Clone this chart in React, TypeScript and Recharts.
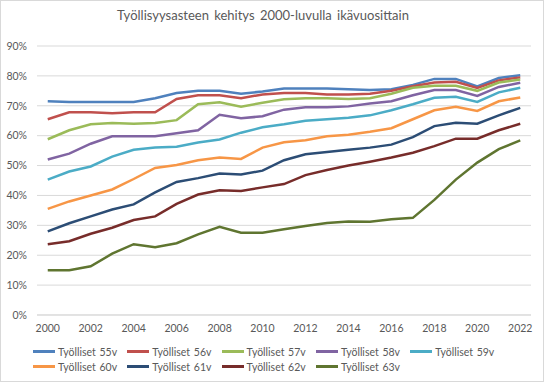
import { LineChart, Line, XAxis, YAxis, CartesianGrid, Legend } from "recharts"

const years = [
  "2000", "2001", "2002", "2003", "2004", "2005", "2006", "2007", "2008", "2009", "2010", "2011",
  "2012", "2013", "2014", "2015", "2016", "2017", "2018", "2019", "2020", "2021", "2022",
]

// työllisyysaste, %
const age55 = [71.5, 71.3, 71.3, 71.3, 71.3, 72.5, 74.3, 75, 75, 74, 74.8, 75.8, 75.8, 75.8, 75.5, 75.3, 75.5, 77, 79, 79, 76.5, 79.3, 80.2]
const age56 = [65.5, 67.8, 67.8, 67.5, 67.8, 67.8, 72.3, 73.5, 73.5, 72.5, 73.8, 74.3, 74.3, 73.8, 73.8, 74, 75, 76.5, 77.8, 78, 76, 78.5, 79.5]
const age57 = [58.8, 61.8, 63.8, 64.2, 64, 64.2, 65.2, 70.5, 71.2, 69.7, 71, 72.2, 72.5, 72.5, 72.3, 72.5, 74, 76, 76.7, 76.7, 75, 77.8, 78.8]
const age58 = [52, 54, 57.3, 59.8, 59.8, 59.8, 60.8, 61.8, 67, 65.8, 66.5, 68.7, 69.5, 69.5, 69.8, 70.8, 71.5, 73.5, 75.3, 75.3, 73.3, 76.3, 77.7]
const age59 = [45.3, 48, 49.7, 53, 55.3, 56, 56.3, 57.7, 58.7, 61, 62.8, 63.8, 65, 65.5, 66, 66.8, 68.5, 70.5, 72.7, 73, 71.3, 74.5, 76]
const age60 = [35.5, 38, 40, 42, 45.5, 49.2, 50.2, 51.8, 52.7, 52.2, 56, 57.8, 58.5, 59.8, 60.3, 61.3, 62.5, 65.5, 68.5, 69.7, 68.3, 71.5, 72.8]
const age61 = [28, 30.7, 33, 35.3, 37, 41, 44.5, 45.8, 47.3, 47, 48.3, 51.8, 53.8, 54.5, 55.3, 56, 57, 59.5, 63.2, 64.3, 64, 66.8, 69.3]
const age62 = [23.7, 24.7, 27.2, 29.2, 31.8, 33, 37.2, 40.3, 41.7, 41.5, 42.7, 43.8, 46.8, 48.5, 50, 51.3, 52.7, 54.3, 56.5, 59, 59, 61.8, 64]
const age63 = [15, 15, 16.3, 20.5, 23.7, 22.7, 24, 27, 29.5, 27.5, 27.5, 28.7, 29.8, 30.8, 31.3, 31.2, 32, 32.5, 38.5, 45.3, 51, 55.5, 58.4]

const seriesNames = [
  "Työlliset 55v", "Työlliset 56v", "Työlliset 57v", "Työlliset 58v", "Työlliset 59v",
  "Työlliset 60v", "Työlliset 61v", "Työlliset 62v", "Työlliset 63v",
]
const seriesValues = [age55, age56, age57, age58, age59, age60, age61, age62, age63]
const yTicks = [0, 10, 20, 30, 40, 50, 60, 70, 80, 90]

const colors = ["#4F81BD", "#C0504D", "#9BBB59", "#8064A2", "#4BACC6", "#F79646", "#2C4D75", "#772C2A", "#5F7530"]
const font = "Lato, 'Open Sans', sans-serif"
const textColor = "#595959"

const data = years.map((year, i) => {
  const row: Record<string, string | number> = { year }
  seriesNames.forEach((name, s) => {
    row[name] = seriesValues[s][i]
  })
  return row
})

function LegendBox() {
  return (
    <div style={{ position: "relative", width: 544, height: 36, fontFamily: font, fontSize: 10.5, color: textColor }}>
      {seriesNames.map((name, i) => (
        <div
          key={name}
          style={{
            position: "absolute",
            left: 32 + (i % 5) * 94.3,
            top: 7 + Math.floor(i / 5) * 15,
            height: 15,
            display: "flex",
            alignItems: "center",
            whiteSpace: "nowrap",
          }}
        >
          <span style={{ display: "inline-block", width: 22, height: 3, background: colors[i], marginRight: 3 }} />
          <span style={{ wordSpacing: 1 }}>{name}</span>
        </div>
      ))}
    </div>
  )
}

export default function App() {
  return (
    <div
      style={{
        position: "absolute",
        left: 0,
        top: 0,
        width: 542,
        height: 380,
        border: "1px solid #d9d9d9",
        background: "#fff",
        overflow: "hidden",
      }}
    >
      <div
        style={{
          position: "absolute",
          top: 6,
          left: 0,
          width: 524,
          textAlign: "center",
          fontFamily: font,
          fontSize: 13,
          color: textColor,
          wordSpacing: 2,
        }}
      >
        Työllisyysasteen kehitys 2000-luvulla ikävuosittain
      </div>
      <LineChart
        width={542}
        height={380}
        data={data}
        margin={{ top: 45, right: 12, left: 0, bottom: 8 }}
      >
        <CartesianGrid vertical={false} stroke="#d9d9d9" />
        <XAxis
          dataKey="year"
          interval={1}
          tickLine={false}
          axisLine={{ stroke: "#d9d9d9" }}
          tickSize={0}
          tickMargin={10}
          height={22}
          padding={{ left: 10.75, right: 10.75 }}
          tick={{ fill: textColor, fontSize: 10.5, fontFamily: font }}
        />
        <YAxis
          domain={[0, 90]}
          ticks={yTicks}
          tickFormatter={(v) => `${v}%`}
          tickLine={false}
          axisLine={false}
          tickSize={0}
          tickMargin={10}
          width={36}
          tick={{ fill: textColor, fontSize: 10.5, fontFamily: font }}
        />
        <Legend
          verticalAlign="bottom"
          content={() => <LegendBox />}
          wrapperStyle={{ left: 0, width: 542 }}
        />
        {seriesNames.map((name, i) => (
          <Line
            key={name}
            type="linear"
            dataKey={name}
            stroke={colors[i]}
            strokeWidth={2.5}
            dot={false}
            isAnimationActive={false}
          />
        ))}
      </LineChart>
    </div>
  )
}
